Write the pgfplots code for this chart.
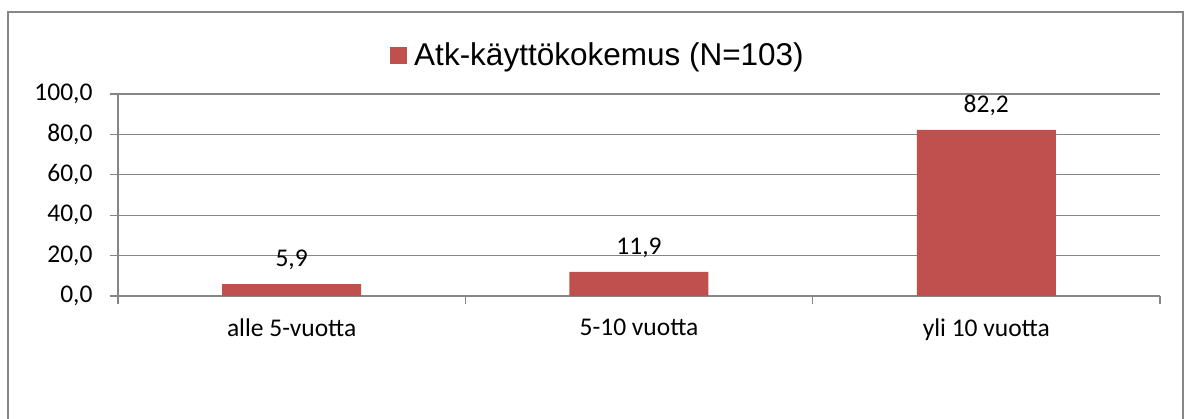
\documentclass[border=0pt]{standalone}
\usepackage{pgfplots}
\pgfplotsset{compat=1.18}
\usepackage{fontspec}
\setmainfont{Carlito}
\newfontfamily\arialf{Liberation Sans}
\definecolor{barred}{HTML}{C0504D}
\definecolor{axgray}{HTML}{868686}
\begin{document}
\begin{tikzpicture}[x=1pt,y=1pt]
\useasboundingbox (0,0) rectangle (1188,419);
\draw[axgray, line width=2pt] (8,-10) -- (8,407) -- (1183,407) -- (1183,-10);
\begin{axis}[
  at={(118pt,123pt)}, anchor=south west,
  scale only axis, width=1042pt, height=202pt,
  xmin=-0.5, xmax=2.5, ymin=0, ymax=100,
  axis x line*=bottom, axis y line*=left,
  xtick pos=bottom, ytick pos=left,
  ytick={0,20,...,100},
  ymajorgrids,
  xtick={-0.5,0.5,1.5,2.5},
  xticklabels={{},{},{},{}},
  extra x ticks={0,1,2},
  extra x tick labels={alle 5-vuotta,5-10 vuotta,yli 10 vuotta},
  extra x tick style={major tick length=0pt, xticklabel style={yshift=-19pt}},
  tick align=outside, major tick length=8pt,
  axis line style={draw=axgray, line width=1.3pt},
  tick style={draw=axgray, line width=1.3pt},
  grid style={draw=axgray, line width=1.3pt},
  ticklabel style={font=\fontsize{25.5}{30}\selectfont},
  yticklabel style={xshift=-14pt},
  /pgf/number format/.cd, fixed, fixed zerofill, precision=1, use comma, assume math mode=true,
  /pgfplots/.cd,
  legend style={at={(0.4597,1.193)}, anchor=center, draw=none, fill=none,
    inner sep=0pt, font=\arialf\fontsize{31.5}{36}\selectfont,
    nodes={inner sep=0pt}},
  legend image code/.code={\fill[barred] (0pt,-8.5pt) rectangle (17pt,8.5pt); \path (24pt,0pt);},
]
\addplot[ybar, fill=barred, draw=none, bar width=139pt,
  nodes near coords,
  nodes near coords style={font=\fontsize{25.5}{30}\selectfont, text=black, yshift=11pt,
    /pgf/number format/.cd, fixed, fixed zerofill, precision=1, use comma, assume math mode=true}]
  coordinates {(0,5.9) (1,11.9) (2,82.2)};
\addlegendentry{Atk-käyttökokemus (N=103)}
\end{axis}
\end{tikzpicture}
\end{document}
